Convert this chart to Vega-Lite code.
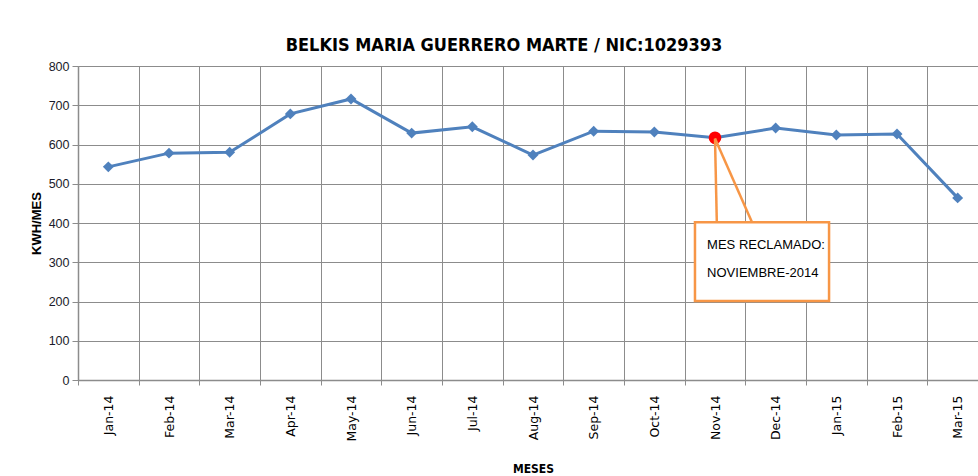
{
  "$schema": "https://vega.github.io/schema/vega-lite/v6.json",
  "width": 910,
  "height": 314,
  "autosize": {"type": "pad"},
  "padding": {"left": 30, "top": 37, "right": 0, "bottom": 0},
  "background": "white",
  "config": {
    "axisY": {
      "titleFont": "Liberation Sans", "titleFontSize": 13, "titleFontWeight": "bold",
      "titleColor": "#000000", "titlePadding": 5,
      "labelFont": "Liberation Sans", "labelFontSize": 12.5, "labelColor": "#1a1a2a",
      "labelPadding": 3,
      "grid": true, "gridColor": "#8C8C8C", "gridWidth": 1,
      "tickColor": "#8C8C8C", "tickSize": 6, "domainColor": "#8C8C8C", "domainWidth": 1.5
    }
  },
  "title": {
    "text": "BELKIS MARIA GUERRERO MARTE / NIC:1029393",
    "font": "DejaVu Sans Condensed, Liberation Sans",
    "fontSize": 18,
    "fontWeight": "bold",
    "color": "#000000",
    "anchor": "middle",
    "dx": -29,
    "offset": 5
  },
  "datasets": {
    "consumo": [
      {"mes": "Jan-14", "kwh": 543},
      {"mes": "Feb-14", "kwh": 578},
      {"mes": "Mar-14", "kwh": 580},
      {"mes": "Apr-14", "kwh": 678},
      {"mes": "May-14", "kwh": 716},
      {"mes": "Jun-14", "kwh": 629},
      {"mes": "Jul-14", "kwh": 645},
      {"mes": "Aug-14", "kwh": 573},
      {"mes": "Sep-14", "kwh": 634},
      {"mes": "Oct-14", "kwh": 632},
      {"mes": "Nov-14", "kwh": 617},
      {"mes": "Dec-14", "kwh": 642},
      {"mes": "Jan-15", "kwh": 624},
      {"mes": "Feb-15", "kwh": 627},
      {"mes": "Mar-15", "kwh": 464}
    ],
    "caja": [{"x": 10.17, "x2": 12.38, "y": 201, "y2": 402}],
    "flecha": [
      {"x": 10.5, "y": 615, "x2": 10.53, "y2": 402},
      {"x": 10.5, "y": 615, "x2": 11.11, "y2": 402}
    ],
    "texto": [
      {"x": 10.37, "y": 344, "t": "MES RECLAMADO:"},
      {"x": 10.37, "y": 273, "t": "NOVIEMBRE-2014"}
    ]
  },
  "resolve": {"scale": {"x": "independent"}, "axis": {"x": "independent"}},
  "layer": [
    {
      "data": {"name": "consumo"},
      "mark": {"type": "line", "color": "#4F81BD", "strokeWidth": 3,
        "point": {"shape": "diamond", "size": 120, "filled": true, "color": "#4F81BD"}},
      "encoding": {
        "x": {
          "field": "mes", "type": "ordinal", "sort": null,
          "scale": {"type": "band", "paddingInner": 0, "paddingOuter": 0},
          "axis": {
            "title": "MESES",
            "titleFont": "DejaVu Sans Condensed, Liberation Sans",
            "titleFontSize": 12, "titleFontWeight": "bold", "titleColor": "#000000",
            "titlePadding": 22,
            "labelAngle": 270, "labelAlign": "right", "labelBaseline": "middle",
            "labelFont": "DejaVu Sans", "labelFontSize": 12.5, "labelColor": "#000000",
            "labelPadding": 10,
            "tickBand": "extent", "grid": true, "gridColor": "#8C8C8C", "gridWidth": 1,
            "tickColor": "#8C8C8C", "tickSize": 5, "domainColor": "#8C8C8C", "domainWidth": 1.5
          }
        },
        "y": {
          "field": "kwh", "type": "quantitative",
          "scale": {"domain": [0, 800]},
          "axis": {"title": "KWH/MES", "values": [0, 100, 200, 300, 400, 500, 600, 700, 800]}
        }
      }
    },
    {
      "data": {"name": "consumo"},
      "transform": [{"filter": "datum.mes === 'Nov-14'"}],
      "mark": {"type": "point", "shape": "circle", "filled": true, "color": "#FF0000", "size": 160, "opacity": 1},
      "encoding": {
        "x": {"field": "mes", "type": "ordinal", "sort": null,
          "scale": {"type": "band", "paddingInner": 0, "paddingOuter": 0,
            "domain": ["Jan-14","Feb-14","Mar-14","Apr-14","May-14","Jun-14","Jul-14","Aug-14","Sep-14","Oct-14","Nov-14","Dec-14","Jan-15","Feb-15","Mar-15"]},
          "axis": null},
        "y": {"field": "kwh", "type": "quantitative", "scale": {"domain": [0, 800]},
          "axis": {"title": "KWH/MES", "values": [0, 100, 200, 300, 400, 500, 600, 700, 800]}}
      }
    },
    {
      "data": {"name": "flecha"},
      "mark": {"type": "rule", "color": "#F79646", "strokeWidth": 2.5},
      "encoding": {
        "x": {"field": "x", "type": "quantitative", "scale": {"domain": [0, 15], "nice": false, "zero": false}, "axis": null},
        "x2": {"field": "x2"},
        "y": {"field": "y", "type": "quantitative",
          "axis": {"title": "KWH/MES", "values": [0, 100, 200, 300, 400, 500, 600, 700, 800]}},
        "y2": {"field": "y2"}
      }
    },
    {
      "data": {"name": "caja"},
      "mark": {"type": "rect", "fill": "#FFFFFF", "stroke": "#F79646", "strokeWidth": 2.5},
      "encoding": {
        "x": {"field": "x", "type": "quantitative", "scale": {"domain": [0, 15], "nice": false, "zero": false}, "axis": null},
        "x2": {"field": "x2"},
        "y": {"field": "y", "type": "quantitative",
          "axis": {"title": "KWH/MES", "values": [0, 100, 200, 300, 400, 500, 600, 700, 800]}},
        "y2": {"field": "y2"}
      }
    },
    {
      "data": {"name": "texto"},
      "mark": {"type": "text", "align": "left", "baseline": "middle", "font": "Liberation Sans", "fontSize": 13, "color": "#000000"},
      "encoding": {
        "x": {"field": "x", "type": "quantitative", "scale": {"domain": [0, 15], "nice": false, "zero": false}, "axis": null},
        "y": {"field": "y", "type": "quantitative",
          "axis": {"title": "KWH/MES", "values": [0, 100, 200, 300, 400, 500, 600, 700, 800]}},
        "text": {"field": "t"}
      }
    }
  ]
}
